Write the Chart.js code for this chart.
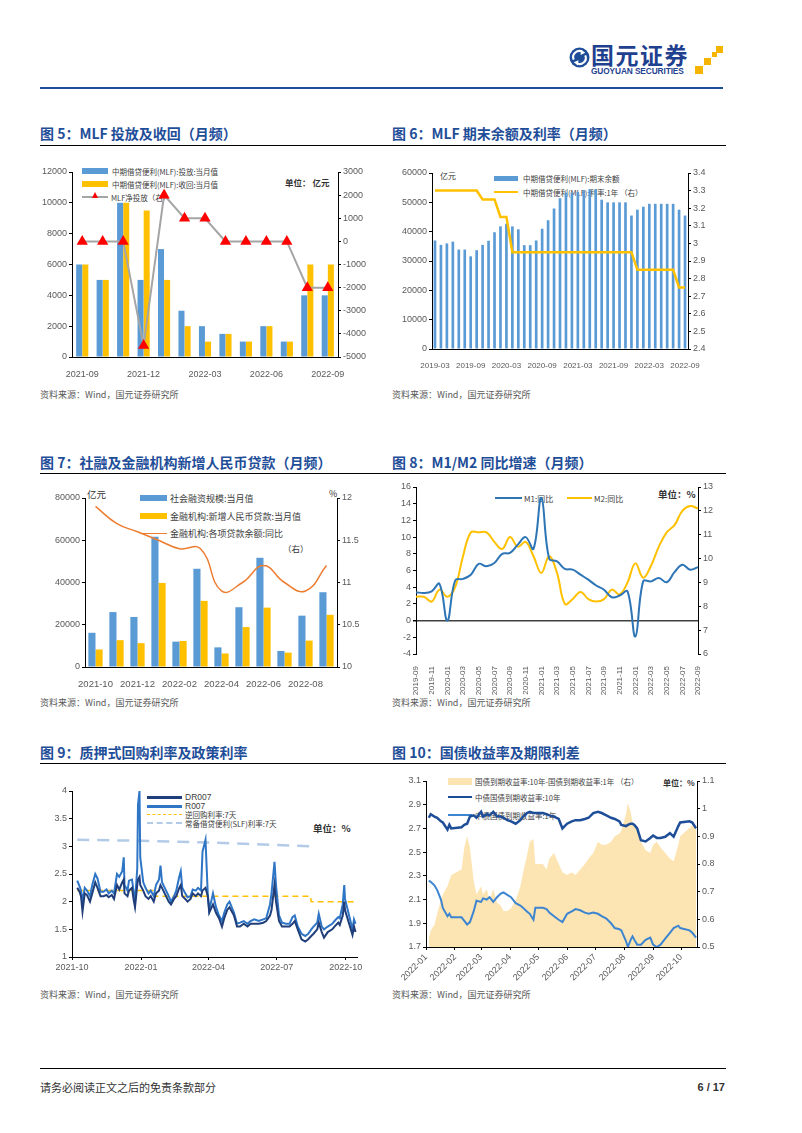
<!DOCTYPE html>
<html lang="zh-CN">
<head>
<meta charset="utf-8">
<title>国元证券 图5-图10</title>
<script src="https://cdn.jsdelivr.net/npm/chart.js@4.4.0/dist/chart.umd.min.js"></script>
<style>
  body { margin: 0; background: #fff; }
  #page { position: relative; width: 802px; height: 1133px; overflow: hidden; background: #fff;
          font-family: "Noto Sans CJK SC", "Liberation Sans", sans-serif; }
  .abs { position: absolute; white-space: nowrap; }
  .title { position: absolute; font-size: 14px; line-height: 18px; font-weight: bold; color: #1f4e99; white-space: nowrap; }
  .rule { position: absolute; height: 0; border-top: 1.5px solid #000; }
  .src { position: absolute; font-size: 9px; line-height: 12px; color: #595959; white-space: nowrap; }
  canvas { position: absolute; z-index: 1; }
  .lg { position: absolute; z-index: 0; display: flex; align-items: center; height: 10px;
        font-size: 7.5px; color: #404040; white-space: nowrap; }
  .lg i { display: inline-block; flex: none; }
  .unit { position: absolute; z-index: 0; font-size: 9px; line-height: 12px; color: #333; white-space: nowrap; }
  .b { font-weight: bold; }
  .sq { position: absolute; background: #f5b400; }
</style>
</head>
<body>
<div id="page">

  <!-- header -->
  <svg class="abs" style="left:569px;top:47px" width="21" height="21" viewBox="0 0 20 20">
    <circle cx="10" cy="10" r="9.5" fill="#1f4e99"/>
    <path d="M4.5 12 A5.8 5.8 0 0 1 13 4.8" stroke="#fff" stroke-width="2" fill="none"/>
    <path d="M15.5 8 A5.8 5.8 0 0 1 7 15.2" stroke="#fff" stroke-width="2" fill="none"/>
    <polygon points="11.5,2.5 15.5,5.5 11,7.5" fill="#fff"/>
    <polygon points="8.5,17.5 4.5,14.5 9,12.5" fill="#fff"/>
  </svg>
  <div class="abs b" style="left:591px;top:41px;font-size:23px;line-height:27px;color:#1f3f8f;letter-spacing:1.5px">国元证券</div>
  <div class="abs b" style="left:591px;top:67px;font-size:8.3px;line-height:9px;color:#1f3f8f;letter-spacing:-0.1px;font-family:'Liberation Sans',sans-serif">GUOYUAN SECURITIES</div>
  <div class="sq" style="left:695px;top:66px;width:8px;height:8px"></div>
  <div class="sq" style="left:704px;top:58px;width:7px;height:7px"></div>
  <div class="sq" style="left:712px;top:52px;width:5px;height:5px"></div>
  <div class="sq" style="left:716px;top:46px;width:7px;height:7px"></div>
  <div class="abs" style="left:40px;top:87px;width:683px;height:2px;background:#1f4e99"></div>

  <!-- row 1 -->
  <div class="title" style="left:40px;top:124px">图 5：MLF 投放及收回（月频）</div>
  <div class="title" style="left:392px;top:124px">图 6：MLF 期末余额及利率（月频）</div>
  <div class="rule" style="left:40px;top:145px;width:686px"></div>

  <div class="lg" style="left:82px;top:166px"><i style="width:26px;height:6px;background:#5b9bd5;margin-right:4px"></i>中期借贷便利(MLF):投放:当月值</div>
  <div class="lg" style="left:82px;top:179px"><i style="width:26px;height:6px;background:#ffc000;margin-right:4px"></i>中期借贷便利(MLF):收回:当月值</div>
  <div class="lg" style="left:82px;top:192px"><i style="position:relative;width:26px;height:0;border-top:2px solid #a5a5a5;margin-right:3px"><b style="position:absolute;left:10px;top:-6px;width:0;height:0;border-left:3.5px solid transparent;border-right:3.5px solid transparent;border-bottom:6px solid #ff0000"></b></i>MLF净投放（右）</div>
  <div class="unit b" style="left:285px;top:176px;font-size:8.5px">单位： 亿元</div>

  <div class="lg" style="left:494px;top:173px"><i style="width:24px;height:5px;background:#5b9bd5;margin-right:5px"></i>中期借贷便利(MLF):期末余额</div>
  <div class="lg" style="left:494px;top:187px"><i style="width:24px;height:0;border-top:2.5px solid #ffc000;margin-right:5px"></i>中期借贷便利(MLF):利率:1年 （右）</div>
  <div class="unit" style="left:440px;top:170px;font-size:8px">亿元</div>

  <canvas id="c5" width="338" height="220" style="left:30px;top:160px"></canvas>
  <canvas id="c6" width="320" height="210" style="left:392px;top:160px"></canvas>

  <div class="src" style="left:40px;top:389px">资料来源：Wind，国元证券研究所</div>
  <div class="src" style="left:392px;top:389px">资料来源：Wind，国元证券研究所</div>

  <!-- row 2 -->
  <div class="title" style="left:40px;top:453px">图 7：社融及金融机构新增人民币贷款（月频）</div>
  <div class="title" style="left:392px;top:453px">图 8：M1/M2 同比增速（月频）</div>
  <div class="rule" style="left:40px;top:473px;width:686px"></div>

  <div class="lg" style="left:140px;top:493px;font-size:9px"><i style="width:27px;height:6px;background:#5b9bd5;margin-right:3px"></i>社会融资规模:当月值</div>
  <div class="lg" style="left:140px;top:511px;font-size:9px"><i style="width:27px;height:6px;background:#ffc000;margin-right:3px"></i>金融机构:新增人民币贷款:当月值</div>
  <div class="lg" style="left:140px;top:528px;font-size:9px"><i style="width:27px;height:0;border-top:1.5px solid #ed7d31;margin-right:3px"></i>金融机构:各项贷款余额:同比</div>
  <div class="unit" style="left:283px;top:542px;font-size:8.5px">（右）</div>
  <div class="unit" style="left:87px;top:488px;font-size:9.5px">亿元</div>
  <div class="unit" style="left:329px;top:488px;font-size:9px">%</div>

  <div class="lg" style="left:495px;top:493px;font-size:8px"><i style="width:27px;height:0;border-top:2.5px solid #2e75b6;margin-right:2px"></i>M1:同比</div>
  <div class="lg" style="left:567px;top:493px;font-size:8px"><i style="width:25px;height:0;border-top:2.5px solid #ffc000;margin-right:2px"></i>M2:同比</div>
  <div class="unit b" style="left:658px;top:488px;font-size:9.5px">单位：%</div>

  <canvas id="c7" width="326" height="206" style="left:40px;top:486px"></canvas>
  <canvas id="c8" width="330" height="222" style="left:392px;top:476px"></canvas>

  <div class="src" style="left:40px;top:697px">资料来源：Wind，国元证券研究所</div>
  <div class="src" style="left:392px;top:697px">资料来源：Wind，国元证券研究所</div>

  <!-- row 3 -->
  <div class="title" style="left:40px;top:743px">图 9：质押式回购利率及政策利率</div>
  <div class="title" style="left:392px;top:743px">图 10：国债收益率及期限利差</div>
  <div class="rule" style="left:40px;top:763px;width:686px"></div>

  <div class="lg" style="left:147px;top:792px;font-size:8.5px;font-family:'Liberation Sans',sans-serif"><i style="width:35px;height:0;border-top:3px solid #203f7a;margin-right:3px"></i>DR007</div>
  <div class="lg" style="left:147px;top:801px;font-size:8.5px;font-family:'Liberation Sans',sans-serif"><i style="width:35px;height:0;border-top:3px solid #2e75c6;margin-right:3px"></i>R007</div>
  <div class="lg" style="left:147px;top:809px;font-size:7.5px"><i style="width:35px;height:0;border-top:1.5px dashed #ffc000;margin-right:3px"></i>逆回购利率:7天</div>
  <div class="lg" style="left:147px;top:818px;font-size:7.5px"><i style="width:35px;height:0;border-top:2.5px dashed #b4cbe8;margin-right:3px"></i>常备借贷便利(SLF)利率:7天</div>
  <div class="unit b" style="left:313px;top:822px;font-size:9.5px">单位：%</div>

  <div class="lg" style="left:448px;top:776px;font-size:7.5px"><i style="width:24px;height:7px;background:#fde5b3;margin-right:3px"></i>国债到期收益率:10年-国债到期收益率:1年 （右）</div>
  <div class="lg" style="left:448px;top:792px;font-size:7.5px"><i style="width:24px;height:0;border-top:2.5px solid #1f4e99;margin-right:3px"></i>中债国债到期收益率:10年</div>
  <div class="lg" style="left:448px;top:810px;font-size:7.5px"><i style="width:24px;height:0;border-top:2.5px solid #3d85d1;margin-right:3px"></i>中债国债到期收益率:1年</div>
  <div class="unit b" style="left:663px;top:777px;font-size:8px">单位：%</div>

  <canvas id="c9" width="338" height="202" style="left:30px;top:780px"></canvas>
  <canvas id="c10" width="330" height="220" style="left:392px;top:770px"></canvas>

  <div class="src" style="left:40px;top:989px">资料来源：Wind，国元证券研究所</div>
  <div class="src" style="left:392px;top:989px">资料来源：Wind，国元证券研究所</div>

  <!-- footer -->
  <div class="abs" style="left:40px;top:1068px;width:686px;height:1px;background:#000"></div>
  <div class="abs" style="left:40px;top:1080px;font-size:11px;line-height:14px;color:#333">请务必阅读正文之后的免责条款部分</div>
  <div class="abs b" style="left:680px;top:1080px;width:45px;text-align:right;font-size:11px;line-height:14px;color:#333;font-family:'Liberation Sans',sans-serif">6 / 17</div>
</div>

<script>
// ---- 图5 MLF投放及收回 (亿元)
const mlfMonths = ['2021-09', '2021-10', '2021-11', '2021-12', '2022-01', '2022-02', '2022-03',
    '2022-04', '2022-05', '2022-06', '2022-07', '2022-08', '2022-09'];
const mlfIssue = [6000, 5000, 10000, 5000, 7000, 3000, 2000, 1500, 1000, 2000, 1000, 4000, 4000];
const mlfMature = [6000, 5000, 10000, 9500, 5000, 2000, 1000, 1500, 1000, 2000, 1000, 6000, 6000];
const mlfNet = [0, 0, 0, -4500, 2000, 1000, 1000, 0, 0, 0, 0, -2000, -2000];

// ---- 图6 MLF期末余额及利率
const balMonths = ['2019-03', '2019-04', '2019-05', '2019-06', '2019-07', '2019-08', '2019-09', '2019-10', '2019-11', '2019-12',
    '2020-01', '2020-02', '2020-03', '2020-04', '2020-05', '2020-06', '2020-07', '2020-08', '2020-09', '2020-10', '2020-11', '2020-12',
    '2021-01', '2021-02', '2021-03', '2021-04', '2021-05', '2021-06', '2021-07', '2021-08', '2021-09', '2021-10', '2021-11', '2021-12',
    '2022-01', '2022-02', '2022-03', '2022-04', '2022-05', '2022-06', '2022-07', '2022-08', '2022-09'];
const mlfBalance = [37000, 35500, 36000, 36600, 33900, 33900, 31600, 33700, 35500, 36900,
    39800, 41800, 42700, 41800, 40800, 35400, 35400, 37000, 41000, 43900, 47900, 51400,
    53300, 53300, 53500, 54000, 54500, 54500, 50900, 50000, 50000, 50000, 50000, 45500,
    47500, 48500, 49500, 49500, 49500, 49500, 49500, 47500, 45500];
const mlfRate = [3.3, 3.3, 3.3, 3.3, 3.3, 3.3, 3.3, 3.3, 3.25, 3.25,
    3.25, 3.15, 3.15, 2.95, 2.95, 2.95, 2.95, 2.95, 2.95, 2.95, 2.95, 2.95,
    2.95, 2.95, 2.95, 2.95, 2.95, 2.95, 2.95, 2.95, 2.95, 2.95, 2.95, 2.95,
    2.85, 2.85, 2.85, 2.85, 2.85, 2.85, 2.85, 2.75, 2.75];

// ---- 图7 社融及新增人民币贷款
const tsfMonths = ['2021-10', '2021-11', '2021-12', '2022-01', '2022-02', '2022-03',
    '2022-04', '2022-05', '2022-06', '2022-07', '2022-08', '2022-09'];
const tsfFlow = [16200, 26000, 23700, 61700, 12000, 46500, 9300, 28300, 51700, 7600, 24300, 35400];
const newLoans = [8300, 12700, 11300, 39800, 12300, 31300, 6400, 18900, 28100, 6800, 12500, 24700];
const loanYoY = [11.9, 11.7, 11.6, 11.5, 11.4, 11.4, 10.9, 11.0, 11.2, 11.0, 10.9, 11.2];

// ---- 图8 M1/M2同比
const mMonths = ['2019-09', '2019-10', '2019-11', '2019-12',
    '2020-01', '2020-02', '2020-03', '2020-04', '2020-05', '2020-06', '2020-07', '2020-08', '2020-09', '2020-10', '2020-11', '2020-12',
    '2021-01', '2021-02', '2021-03', '2021-04', '2021-05', '2021-06', '2021-07', '2021-08', '2021-09', '2021-10', '2021-11', '2021-12',
    '2022-01', '2022-02', '2022-03', '2022-04', '2022-05', '2022-06', '2022-07', '2022-08', '2022-09'];
const m1YoY = [3.4, 3.3, 3.5, 4.4,
    0.0, 4.8, 5.0, 5.5, 6.8, 6.5, 6.9, 8.0, 8.1, 9.1, 10.0, 8.6,
    14.7, 7.4, 7.1, 6.2, 6.1, 5.5, 4.9, 4.2, 3.7, 2.8, 3.0, 3.5,
    -1.9, 4.7, 4.7, 5.1, 4.6, 5.8, 6.7, 6.1, 6.4];
const m2YoY = [8.4, 8.4, 8.2, 8.7,
    8.4, 8.8, 10.1, 11.1, 11.1, 11.1, 10.7, 10.4, 10.9, 10.5, 10.7, 10.1,
    9.4, 10.1, 9.4, 8.1, 8.3, 8.6, 8.3, 8.2, 8.3, 8.7, 8.5, 9.0,
    9.8, 9.2, 9.7, 10.5, 11.1, 11.4, 12.0, 12.2, 12.1];

// ---- 图9 质押式回购利率及政策利率
const repoTicks = ['2021-10', '2022-01', '2022-04', '2022-07', '2022-10'];
const repoDates = ['2021-10-08', '2021-10-11', '2021-10-13', '2021-10-15', '2021-10-18', '2021-10-21', '2021-10-25', '2021-10-28',
    '2021-11-01', '2021-11-04', '2021-11-08', '2021-11-12', '2021-11-16', '2021-11-19', '2021-11-23', '2021-11-26', '2021-11-30',
    '2021-12-03', '2021-12-07', '2021-12-09', '2021-12-10', '2021-12-14', '2021-12-16', '2021-12-20', '2021-12-22', '2021-12-24',
    '2021-12-27', '2021-12-28', '2021-12-30', '2021-12-31',
    '2022-01-04', '2022-01-07', '2022-01-11', '2022-01-14', '2022-01-18', '2022-01-21', '2022-01-25', '2022-01-27', '2022-01-29',
    '2022-02-07', '2022-02-10', '2022-02-14', '2022-02-17', '2022-02-21', '2022-02-23', '2022-02-25',
    '2022-03-01', '2022-03-04', '2022-03-08', '2022-03-11', '2022-03-15', '2022-03-18', '2022-03-22', '2022-03-24', '2022-03-28', '2022-03-31',
    '2022-04-02', '2022-04-07', '2022-04-11', '2022-04-15', '2022-04-19', '2022-04-22', '2022-04-26', '2022-04-29',
    '2022-05-05', '2022-05-09', '2022-05-13', '2022-05-18', '2022-05-23', '2022-05-27',
    '2022-06-01', '2022-06-07', '2022-06-13', '2022-06-17', '2022-06-22', '2022-06-24', '2022-06-28', '2022-06-30',
    '2022-07-04', '2022-07-08', '2022-07-13', '2022-07-18', '2022-07-22', '2022-07-25', '2022-07-29',
    '2022-08-03', '2022-08-08', '2022-08-12', '2022-08-16', '2022-08-19', '2022-08-24', '2022-08-26', '2022-08-30',
    '2022-09-02', '2022-09-07', '2022-09-13', '2022-09-16', '2022-09-21', '2022-09-23', '2022-09-27', '2022-09-29', '2022-09-30',
    '2022-10-10', '2022-10-12', '2022-10-14'];
const dr007 = [2.25, 2.18, 2.10, 1.82, 2.15, 2.12, 2.00, 2.15,
    2.35, 2.25, 2.10, 2.10, 2.12, 2.08, 2.12, 2.05, 2.30,
    2.22, 2.35, 2.40, 2.15, 2.10, 2.20, 2.25, 2.05, 1.90,
    2.30, 2.40, 2.45, 2.30,
    2.20, 2.10, 2.05, 2.10, 2.00, 2.15, 2.20, 2.30, 2.25,
    2.00, 1.95, 2.05, 2.10, 2.25, 2.30, 2.10,
    2.05, 2.00, 2.05, 2.15, 2.10, 2.15, 2.10, 2.20, 2.25, 2.10,
    1.80, 1.95, 1.80, 1.70, 1.55, 1.70, 1.85, 1.90,
    1.75, 1.55, 1.55, 1.60, 1.55, 1.60,
    1.60, 1.60, 1.62, 1.65, 1.75, 1.85, 2.30, 2.00,
    1.65, 1.55, 1.55, 1.55, 1.60, 1.65, 1.50,
    1.32, 1.28, 1.32, 1.38, 1.42, 1.50, 1.62, 1.45,
    1.35, 1.45, 1.50, 1.55, 1.62, 1.58, 1.75, 2.00, 1.85,
    1.40, 1.55, 1.45];
const r007 = [2.38, 2.28, 2.20, 2.00, 2.25, 2.20, 2.10, 2.30,
    2.50, 2.42, 2.18, 2.18, 2.22, 2.15, 2.20, 2.15, 2.50,
    2.45, 2.55, 2.80, 2.30, 2.20, 2.38, 2.40, 2.20, 2.00,
    2.60, 3.75, 4.00, 2.80,
    2.35, 2.25, 2.15, 2.20, 2.10, 2.30, 2.40, 2.65, 2.35,
    2.10, 2.00, 2.10, 2.20, 2.45, 2.55, 2.25,
    2.15, 2.08, 2.10, 2.22, 2.20, 2.25, 2.20, 2.90, 3.12, 2.15,
    1.85, 2.15, 1.90, 1.75, 1.65, 1.80, 1.95, 2.00,
    1.80, 1.60, 1.62, 1.65, 1.60, 1.65,
    1.68, 1.65, 1.68, 1.70, 1.95, 2.15, 2.72, 2.30,
    1.75, 1.62, 1.60, 1.60, 1.72, 1.75, 1.55,
    1.42, 1.38, 1.42, 1.50, 1.55, 1.62, 1.78, 1.55,
    1.50, 1.55, 1.60, 1.65, 1.72, 1.70, 1.95, 2.30, 2.05,
    1.50, 1.68, 1.60];
const reverseDates = ['2021-10-08', '2022-01-17', '2022-01-18', '2022-08-15', '2022-08-16', '2022-10-14'];
const reverseRate = [2.2, 2.2, 2.1, 2.1, 2.0, 2.0];
const slfDates = ['2021-10-08', '2022-01-01', '2022-04-01', '2022-08-15'];
const slfRate = [3.12, 3.10, 3.07, 3.00];

// ---- 图10 国债收益率及期限利差
const yieldTicks = ['2022-01', '2022-02', '2022-03', '2022-04', '2022-05', '2022-06', '2022-07', '2022-08', '2022-09', '2022-10'];
const yieldDates = ['2022-01-04', '2022-01-06', '2022-01-10', '2022-01-13', '2022-01-17', '2022-01-19', '2022-01-24', '2022-01-26', '2022-01-28',
    '2022-02-08', '2022-02-11', '2022-02-14', '2022-02-17', '2022-02-21', '2022-02-24',
    '2022-03-01', '2022-03-03', '2022-03-07', '2022-03-10', '2022-03-14', '2022-03-18', '2022-03-22', '2022-03-25', '2022-03-29',
    '2022-04-02', '2022-04-07', '2022-04-12', '2022-04-15', '2022-04-19', '2022-04-22', '2022-04-26', '2022-04-28',
    '2022-05-06', '2022-05-10', '2022-05-13', '2022-05-18', '2022-05-23', '2022-05-27',
    '2022-06-01', '2022-06-06', '2022-06-10', '2022-06-15', '2022-06-20', '2022-06-24', '2022-06-29',
    '2022-07-04', '2022-07-08', '2022-07-13', '2022-07-18', '2022-07-22', '2022-07-27', '2022-07-29',
    '2022-08-03', '2022-08-05', '2022-08-08', '2022-08-10', '2022-08-12', '2022-08-15', '2022-08-19', '2022-08-24', '2022-08-29',
    '2022-09-01', '2022-09-05', '2022-09-09', '2022-09-14', '2022-09-19', '2022-09-23', '2022-09-28', '2022-09-30',
    '2022-10-10', '2022-10-13', '2022-10-17'];
const cgb10y = [2.79, 2.82, 2.80, 2.79, 2.76, 2.75, 2.69, 2.73, 2.70,
    2.71, 2.73, 2.74, 2.80, 2.81, 2.79,
    2.84, 2.80, 2.82, 2.81, 2.84, 2.80, 2.80, 2.79, 2.77,
    2.76, 2.74, 2.77, 2.80, 2.83, 2.84, 2.83, 2.83,
    2.83, 2.82, 2.81, 2.80, 2.78, 2.70,
    2.74, 2.76, 2.77, 2.77, 2.78, 2.79, 2.83,
    2.84, 2.83, 2.81, 2.79, 2.78, 2.76, 2.73,
    2.72, 2.73, 2.74, 2.74, 2.73, 2.70, 2.60, 2.59, 2.62,
    2.64, 2.62, 2.62, 2.63, 2.66, 2.63, 2.72, 2.75,
    2.76, 2.75, 2.70];
const cgb1y = [2.26, 2.25, 2.22, 2.18, 2.10, 2.03, 1.96, 1.98, 1.95,
    1.95, 1.92, 1.89, 1.91, 2.00, 2.09,
    2.08, 2.11, 2.10, 2.12, 2.08, 2.12, 2.15, 2.16, 2.14,
    2.12, 2.07, 2.05, 2.03, 2.00, 1.98, 1.93, 2.03,
    2.03, 2.02, 1.99, 1.96, 1.93, 1.91,
    1.98, 2.00, 2.02, 2.01, 1.99, 1.98, 1.99,
    1.98, 1.96, 1.94, 1.90, 1.86, 1.85, 1.84,
    1.75, 1.70, 1.76, 1.79, 1.76, 1.72, 1.72, 1.76, 1.78,
    1.72, 1.70, 1.72, 1.77, 1.82, 1.86, 1.88, 1.86,
    1.84, 1.82, 1.78];
const termSpread = [0.53, 0.56, 0.58, 0.62, 0.67, 0.69, 0.72, 0.74, 0.76,
    0.78, 0.86, 0.90, 0.86, 0.74, 0.69,
    0.72, 0.69, 0.71, 0.67, 0.71, 0.66, 0.65, 0.63, 0.63,
    0.64, 0.67, 0.72, 0.77, 0.83, 0.88, 0.89, 0.80,
    0.80, 0.78, 0.82, 0.84, 0.80, 0.77,
    0.76, 0.77, 0.76, 0.78, 0.80, 0.82, 0.84,
    0.88, 0.87, 0.87, 0.88, 0.90, 0.91, 0.92,
    0.98, 1.02, 0.99, 0.95, 0.94, 0.92, 0.88, 0.85, 0.84,
    0.87, 0.88, 0.86, 0.84, 0.82, 0.81, 0.87, 0.90,
    0.93, 0.94, 0.93];

const dayNum = s => Math.round((Date.parse(s) - Date.parse('2021-10-01')) / 86400000);
const pts = (dates, vals) => dates.map((d, i) => ({ x: dayNum(d), y: vals[i] }));
const fmt = v => String(Math.round(v * 100) / 100);

Chart.defaults.font.family = '"Liberation Sans", Arial, sans-serif';
Chart.defaults.font.size = 9;
Chart.defaults.color = '#595959';
Chart.defaults.animation = false;
Chart.defaults.responsive = false;
Chart.defaults.plugins.legend.display = false;
Chart.defaults.plugins.tooltip.enabled = false;

function valueAxis(position, min, max, step, width) {
    return {
        type: 'linear', position: position, min: min, max: max,
        ticks: { stepSize: step, padding: 2, callback: fmt },
        grid: { drawOnChartArea: false, tickLength: 3, color: '#000' },
        border: { color: '#000' },
        afterFit: (s) => { s.width = width; }
    };
}

function catAxis(height, every, size) {
    return {
        type: 'category',
        grid: { display: false },
        border: { color: '#000' },
        ticks: {
            autoSkip: false, maxRotation: 0, padding: 4, font: { size: size },
            callback: function (v, i) { return i % every === 0 ? this.getLabelForValue(v) : ''; }
        },
        afterFit: (s) => { s.height = height; }
    };
}

function dateAxis(height, first, last, tickList, rotation) {
    return {
        type: 'linear', min: dayNum(first), max: dayNum(last),
        grid: { drawOnChartArea: false, tickLength: 3, color: '#000' },
        border: { color: '#000' },
        afterBuildTicks: (s) => { s.ticks = tickList.map((m) => ({ value: dayNum(m + '-01') })); },
        ticks: { autoSkip: false, minRotation: rotation, maxRotation: rotation, padding: 2,
            callback: (v, i) => tickList[i] },
        afterFit: (s) => { s.height = height; }
    };
}

function chart() {
    new Chart(document.getElementById('c5'), {
        type: 'bar',
        data: {
            labels: mlfMonths,
            datasets: [{
                type: 'line', label: 'MLF净投放（右）', data: mlfNet, yAxisID: 'y1', order: 0,
                borderColor: '#a5a5a5', borderWidth: 2, pointStyle: 'triangle', pointRadius: 4.5,
                pointBackgroundColor: '#ff0000', pointBorderColor: '#ff0000'
            }, {
                label: '中期借贷便利(MLF):投放:当月值', data: mlfIssue, backgroundColor: '#5b9bd5',
                categoryPercentage: 0.6, barPercentage: 0.98, order: 1
            }, {
                label: '中期借贷便利(MLF):收回:当月值', data: mlfMature, backgroundColor: '#ffc000',
                categoryPercentage: 0.6, barPercentage: 0.98, order: 1
            }]
        },
        options: {
            layout: { padding: { top: 12 } },
            scales: {
                x: catAxis(23, 3, 9),
                y: valueAxis('left', 0, 12000, 2000, 42),
                y1: valueAxis('right', -5000, 3000, 1000, 30)
            }
        }
    });

    new Chart(document.getElementById('c6'), {
        type: 'bar',
        data: {
            labels: balMonths,
            datasets: [{
                type: 'line', label: '中期借贷便利(MLF):利率:1年', data: mlfRate, yAxisID: 'y1', order: 0,
                borderColor: '#ffc000', borderWidth: 2.5, pointRadius: 0
            }, {
                label: '中期借贷便利(MLF):期末余额', data: mlfBalance, backgroundColor: '#5b9bd5',
                categoryPercentage: 0.5, barPercentage: 0.9, order: 1
            }]
        },
        options: {
            layout: { padding: { top: 13 } },
            scales: {
                x: catAxis(21, 6, 8),
                y: valueAxis('left', 0, 60000, 10000, 40),
                y1: valueAxis('right', 2.4, 3.4, 0.1, 24)
            }
        }
    });

    new Chart(document.getElementById('c7'), {
        type: 'bar',
        data: {
            labels: tsfMonths,
            datasets: [{
                type: 'line', label: '金融机构:各项贷款余额:同比', data: loanYoY, yAxisID: 'y1', order: 0,
                borderColor: '#ed7d31', borderWidth: 1.5, pointRadius: 0, tension: 0.45
            }, {
                label: '社会融资规模:当月值', data: tsfFlow, backgroundColor: '#5b9bd5',
                categoryPercentage: 0.68, barPercentage: 1, order: 1
            }, {
                label: '金融机构:新增人民币贷款:当月值', data: newLoans, backgroundColor: '#ffc000',
                categoryPercentage: 0.68, barPercentage: 1, order: 1
            }]
        },
        options: {
            layout: { padding: { top: 12 } },
            scales: {
                x: catAxis(25, 2, 9.5),
                y: valueAxis('left', 0, 80000, 20000, 45),
                y1: valueAxis('right', 10, 12, 0.5, 29)
            }
        }
    });

    let m1Axis = valueAxis('left', -4, 16, 2, 24);
    m1Axis.grid = {
        drawOnChartArea: true, tickLength: 3, tickColor: '#000',
        color: (c) => (c.tick && c.tick.value === 0 ? '#404040' : 'rgba(0,0,0,0)'),
        lineWidth: (c) => (c.tick && c.tick.value === 0 ? 1.5 : 1)
    };
    let mX = catAxis(44, 2, 8);
    mX.border = { display: false };
    mX.ticks.minRotation = 90;
    mX.ticks.maxRotation = 90;
    new Chart(document.getElementById('c8'), {
        type: 'line',
        data: {
            labels: mMonths,
            datasets: [{
                label: 'M1:同比', data: m1YoY, borderColor: '#2e75b6', borderWidth: 2,
                pointRadius: 0, tension: 0.4
            }, {
                label: 'M2:同比', data: m2YoY, yAxisID: 'y1', borderColor: '#ffc000', borderWidth: 2,
                pointRadius: 0, tension: 0.4
            }]
        },
        options: {
            layout: { padding: { top: 11 } },
            scales: {
                x: mX,
                y: m1Axis,
                y1: valueAxis('right', 6, 13, 1, 24)
            }
        }
    });

    new Chart(document.getElementById('c9'), {
        type: 'line',
        data: {
            datasets: [{
                label: 'DR007', data: pts(repoDates, dr007), borderColor: '#203f7a', borderWidth: 2, pointRadius: 0
            }, {
                label: 'R007', data: pts(repoDates, r007), borderColor: '#2e75c6', borderWidth: 2, pointRadius: 0
            }, {
                label: '逆回购利率:7天', data: pts(reverseDates, reverseRate), borderColor: '#ffc000',
                borderWidth: 1.5, borderDash: [6, 4], pointRadius: 0
            }, {
                label: '常备借贷便利(SLF)利率:7天', data: pts(slfDates, slfRate), borderColor: '#b4cbe8',
                borderWidth: 2.5, borderDash: [12, 8], pointRadius: 0
            }]
        },
        options: {
            layout: { padding: { top: 11, right: 11 } },
            scales: {
                x: dateAxis(25, '2021-10-01', '2022-10-16', repoTicks, 0),
                y: valueAxis('left', 1, 4, 0.5, 42)
            }
        }
    });

    new Chart(document.getElementById('c10'), {
        type: 'line',
        data: {
            datasets: [{
                label: '中债国债到期收益率:10年', data: pts(yieldDates, cgb10y), borderColor: '#1f4e99',
                borderWidth: 2.5, pointRadius: 0, order: 0
            }, {
                label: '中债国债到期收益率:1年', data: pts(yieldDates, cgb1y), borderColor: '#3d85d1',
                borderWidth: 2, pointRadius: 0, order: 1
            }, {
                label: '国债到期收益率:10年-国债到期收益率:1年', data: pts(yieldDates, termSpread), yAxisID: 'y1',
                borderWidth: 0, borderColor: 'rgba(0,0,0,0)', backgroundColor: '#fde5b3', fill: 'start',
                pointRadius: 0, order: 2
            }]
        },
        options: {
            layout: { padding: { top: 11 } },
            scales: {
                x: dateAxis(43, '2022-01-01', '2022-10-18', yieldTicks, 45),
                y: valueAxis('left', 1.7, 3.1, 0.2, 34),
                y1: valueAxis('right', 0.5, 1.1, 0.1, 25)
            }
        }
    });
}

window.addEventListener('DOMContentLoaded', (event) => {
    chart();
});
</script>
</body>
</html>
